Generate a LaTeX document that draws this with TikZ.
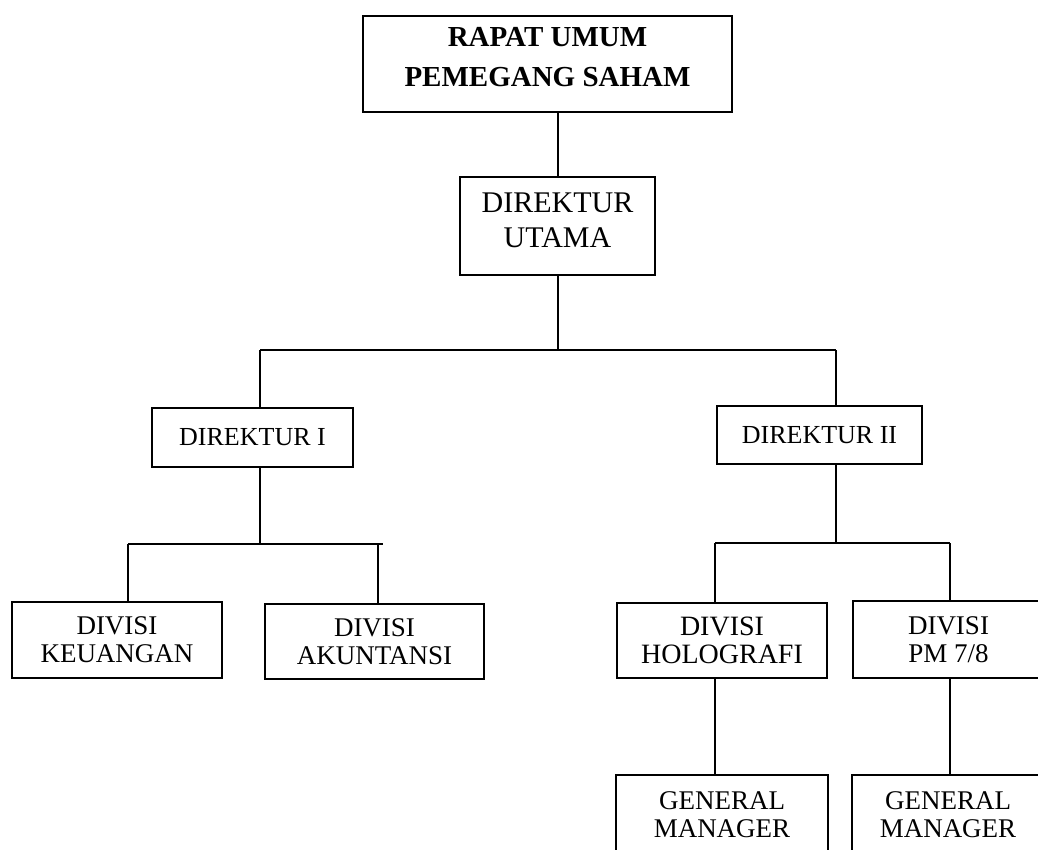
\documentclass[tikz,border=0pt]{standalone}
\usepackage{fontspec}
\setmainfont{Liberation Serif}
\begin{document}
\begin{tikzpicture}[x=1pt,y=-1pt,
  box/.style={draw=black,line width=2pt,rectangle,inner sep=0pt,align=center,font=\fontsize{26}{28}\selectfont},
  link/.style={draw=black,line width=1.9pt}]
\useasboundingbox (0,0) rectangle (1038,849);
\clip (0,0) rectangle (1038,849);

% top levels
\node[box,minimum width=369pt,minimum height=96pt,text depth=14pt,
      font=\fontsize{29}{40}\selectfont\bfseries] (rups) at (547.5,64) {RAPAT UMUM\\PEMEGANG SAHAM};
\node[box,minimum width=195pt,minimum height=98pt,text depth=11pt,
      font=\fontsize{30}{35}\selectfont] (dirut) at (557.5,226) {DIREKTUR\\UTAMA};

% directors
\node[box,minimum width=201pt,minimum height=59pt] (dir1) at (252.5,437.5) {DIREKTUR I};
\node[box,minimum width=205pt,minimum height=58pt] (dir2) at (819.5,435) {DIREKTUR II};

% divisions
\node[box,minimum width=210pt,minimum height=76pt,font=\fontsize{27}{28}\selectfont] (keu) at (117,640) {DIVISI\\KEUANGAN};
\node[box,minimum width=219pt,minimum height=75pt,font=\fontsize{27}{28}\selectfont] (aku) at (374.5,641.5) {DIVISI\\AKUNTANSI};
\node[box,minimum width=210pt,minimum height=75pt,font=\fontsize{28}{28}\selectfont] (holo) at (722,640.5) {DIVISI\\HOLOGRAFI};
\node[box,minimum width=191pt,minimum height=77pt,font=\fontsize{27}{28}\selectfont] (pm) at (948.5,639.5) {DIVISI\\PM 7/8};

% general managers
\node[box,minimum width=212pt,minimum height=80pt,font=\fontsize{27}{28}\selectfont] (gm1) at (722,815) {GENERAL\\MANAGER};
\node[box,minimum width=192pt,minimum height=80pt,font=\fontsize{27}{28}\selectfont] (gm2) at (948,815) {GENERAL\\MANAGER};

% junction points
\coordinate (j0) at (558,350);
\coordinate (t1) at (260,350);
\coordinate (t2) at (836,350);
\coordinate (k0) at (260,544);
\coordinate (k1) at (128,544);
\coordinate (k2) at (378,544);
\coordinate (h0) at (836,543);
\coordinate (h1) at (715,543);
\coordinate (h2) at (950,543);

% connectors
\draw[link] (rups.south -| j0) -- (dirut.north -| j0);
\draw[link] (dirut.south -| j0) -- (j0);
\draw[link] (t1) -- (t2);
\draw[link] (t1) -- (t1 |- dir1.north);
\draw[link] (t2) -- (t2 |- dir2.north);

\draw[link] (dir1.south -| k0) -- (k0);
\draw[link] (k1) -- ([xshift=5pt]k2);
\draw[link] (k1) -- (k1 |- keu.north);
\draw[link] (k2) -- (k2 |- aku.north);

\draw[link] (dir2.south -| h0) -- (h0);
\draw[link] (h1) -- (h2);
\draw[link] (h1) -- (h1 |- holo.north);
\draw[link] (h2) -- (h2 |- pm.north);

\draw[link] (holo.south -| h1) -- (gm1.north -| h1);
\draw[link] (pm.south -| h2) -- (gm2.north -| h2);
\end{tikzpicture}
\end{document}
